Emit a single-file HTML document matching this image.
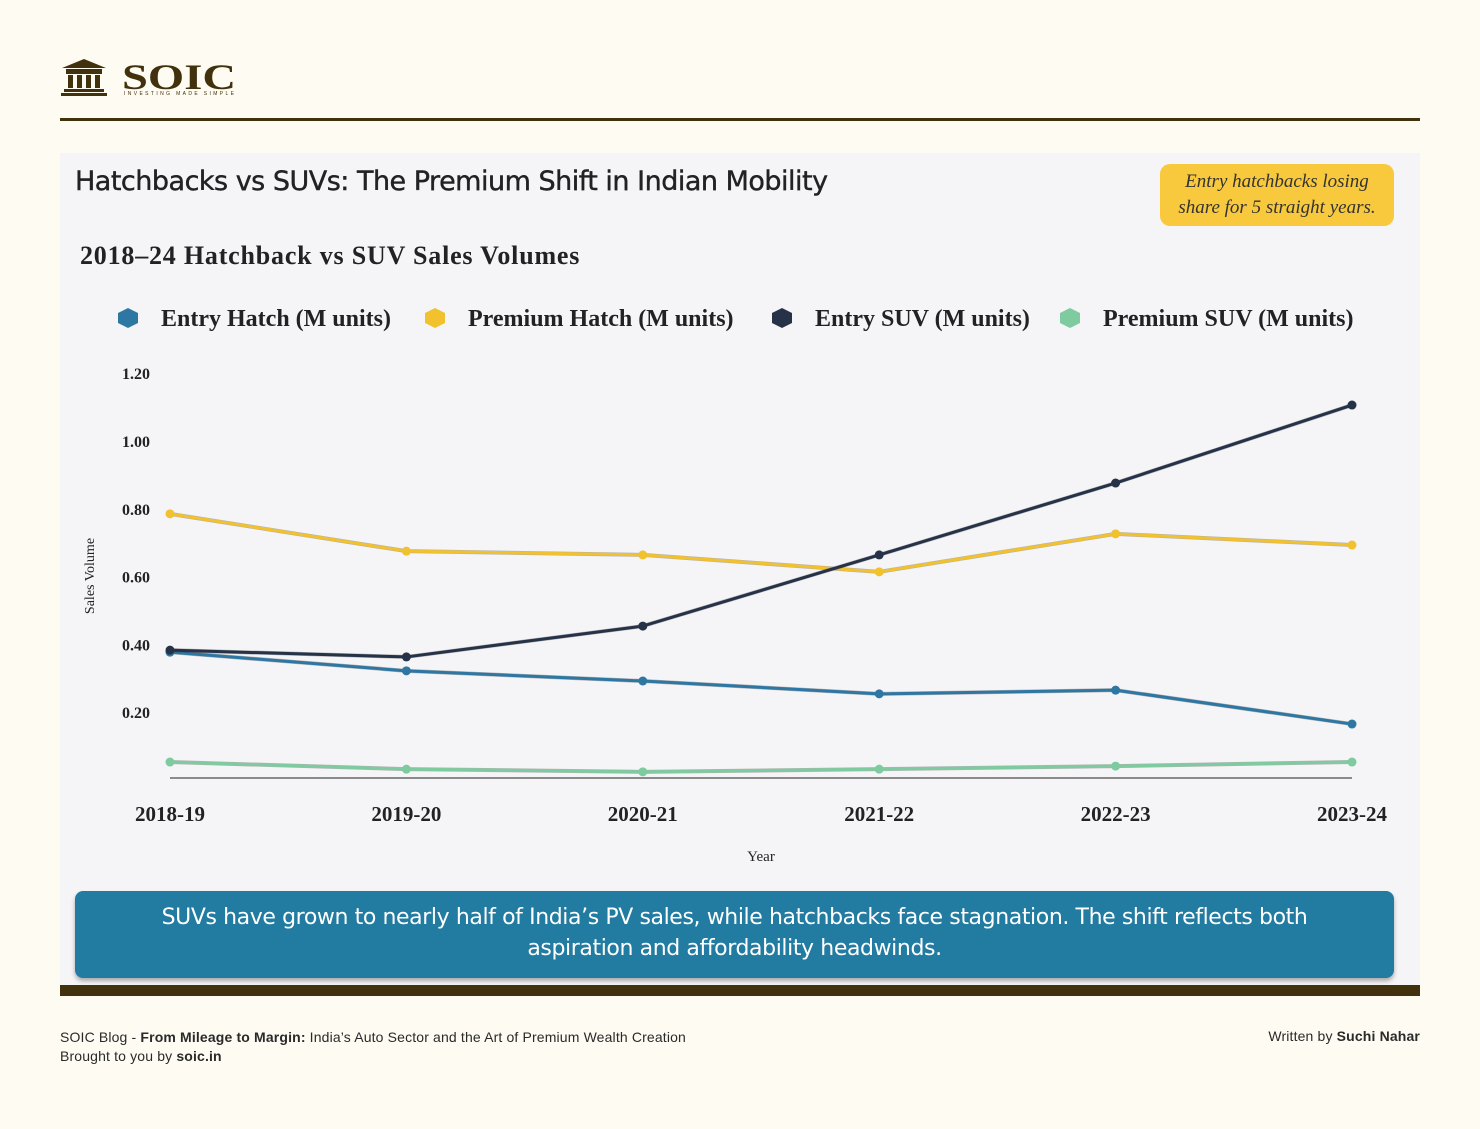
<!DOCTYPE html>
<html><head><meta charset="utf-8"><style>
body{margin:0;width:1480px;height:1129px;background:#fefbf2;position:relative;overflow:hidden;font-family:"Liberation Sans",sans-serif}
.abs{position:absolute}
</style></head><body>
<div class="abs" style="left:60px;top:58px;width:190px;height:42px">
<svg width="190" height="42">
<polygon points="2,10 24,1 46,10" fill="#41310d"/>
<rect x="6" y="11" width="36" height="5" fill="#41310d"/>
<rect x="8" y="17" width="5" height="13" fill="#41310d"/><rect x="17" y="17" width="5" height="13" fill="#41310d"/><rect x="26" y="17" width="5" height="13" fill="#41310d"/><rect x="35" y="17" width="5" height="13" fill="#41310d"/>
<rect x="4" y="31" width="40" height="3" fill="#41310d"/><rect x="1" y="35" width="46" height="3" fill="#41310d"/>
<text x="62" y="31" font-family="Liberation Serif" font-size="36" font-weight="bold" fill="#41310d" textLength="114" lengthAdjust="spacingAndGlyphs">SOIC</text>
<text x="64" y="37" font-family="Liberation Sans" font-size="5" fill="#41310d" textLength="110">INVESTING MADE SIMPLE</text>
</svg></div>
<div class="abs" style="left:60px;top:118px;width:1360px;height:3px;background:#41310d"></div>
<div class="abs" style="left:60px;top:153px;width:1360px;height:833px;background:#f5f5f8"></div>
<div class="abs" style="left:75px;top:166px;font-size:27px;color:#222;font-family:'DejaVu Sans',sans-serif;letter-spacing:-0.5px;-webkit-text-stroke:0.4px #222">Hatchbacks vs SUVs: The Premium Shift in Indian Mobility</div>
<div class="abs" style="left:1160px;top:164px;width:234px;height:62px;background:#f9c93d;border-radius:10px;font-family:'Liberation Serif',serif;font-style:italic;font-size:19px;line-height:26px;text-align:center;color:#333;padding-top:5px;box-sizing:border-box">Entry hatchbacks losing<br>share for 5 straight years.</div>
<div class="abs" style="left:80px;top:241px;font-family:'Liberation Serif',serif;font-weight:bold;font-size:26px;letter-spacing:0.8px;color:#222">2018–24 Hatchback vs SUV Sales Volumes</div>
<svg class="abs" id="chart" style="left:0;top:0" width="1480" height="1129"></svg>
<div class="abs" style="left:75px;top:891px;width:1319px;height:87px;background:#227ba0;border-radius:8px;box-shadow:0 3px 4px #aaa;color:#fff;font-family:'DejaVu Sans',sans-serif;font-size:22px;line-height:31px;text-align:center;padding-top:11px;box-sizing:border-box;letter-spacing:-0.4px">SUVs have grown to nearly half of India’s PV sales, while hatchbacks face stagnation. The shift reflects both<br>aspiration and affordability headwinds.</div>
<div class="abs" style="left:60px;top:985px;width:1360px;height:11px;background:#41310d"></div>
<div class="abs" style="left:60px;top:1028px;font-size:14px;line-height:19px;color:#2a2a2a;letter-spacing:0.15px">SOIC Blog - <b>From Mileage to Margin:</b> India’s Auto Sector and the Art of Premium Wealth Creation<br>Brought to you by <b>soic.in</b></div>
<div class="abs" style="right:60px;top:1028px;font-size:14px;color:#2a2a2a;letter-spacing:0.15px">Written by <b>Suchi Nahar</b></div>
<script>
const categories=["2018-19","2019-20","2020-21","2021-22","2022-23","2023-24"];
const entryHatch=[0.38,0.325,0.295,0.257,0.268,0.168];
const premiumHatch=[0.788,0.678,0.667,0.617,0.729,0.696];
const entrySUV=[0.386,0.366,0.457,0.667,0.879,1.109];
const premiumSUV=[0.056,0.035,0.027,0.035,0.044,0.056];
const yTicks=[0.2,0.4,0.6,0.8,1.0,1.2];
const seriesNames=["Entry Hatch (M units)","Premium Hatch (M units)","Entry SUV (M units)","Premium SUV (M units)"];
const NS="http://www.w3.org/2000/svg";
const svg=document.getElementById('chart');
const x=i=>170+i*236.4;
const y=v=>781-v*339;
function mk(t,a,txt){const e=document.createElementNS(NS,t);for(const k in a)e.setAttribute(k,a[k]);if(txt!=null)e.textContent=txt;svg.appendChild(e);return e;}
const serif="Liberation Serif, serif";
yTicks.forEach(t=>{const e=mk('text',{x:150,y:y(t)+5,'text-anchor':'end','font-family':serif,'font-weight':'bold','font-size':16,fill:'#222'},t.toFixed(2));

});
categories.forEach((c,i)=>{const e=mk('text',{x:x(i),y:821,'text-anchor':'middle','font-family':serif,'font-weight':'bold','font-size':21,fill:'#222'},c);

});
const ax=mk('line',{x1:170,x2:1352,y1:778,y2:778,stroke:'#666','stroke-width':1.5});


const xt=mk('text',{x:761,y:861,'text-anchor':'middle','font-family':serif,'font-size':15,fill:'#222'},'Year');


const yt=mk('text',{x:94,y:576,'text-anchor':'middle','font-family':serif,'font-size':14,fill:'#222',transform:'rotate(-90 94 576)'},'Sales Volume');


const data=[entryHatch,premiumHatch,entrySUV,premiumSUV];
const colors=["#2f77a3","#f2c12e","#263248","#7fcba0"];
const slugs=["entry-hatch","premium-hatch","entry-suv","premium-suv"];
[3,0,1,2].forEach(s=>{
 const pts=data[s].map((v,i)=>x(i)+','+y(v)).join(' ');
 mk('polyline',{points:pts,fill:'none',stroke:'#333','stroke-width':4,opacity:0.35});
 const l=mk('polyline',{points:pts,fill:'none',stroke:colors[s],'stroke-width':3});
 
 
 data[s].forEach((v,i)=>{const c=mk('circle',{cx:x(i),cy:y(v),r:4.5,fill:colors[s]});
 
 });
});
const legX=[128,435,782,1070];
seriesNames.forEach((n,s)=>{
 const d=mk('polygon',{points:`${legX[s]},${308} ${legX[s]+10},${313} ${legX[s]+10},${323} ${legX[s]},${328} ${legX[s]-10},${323} ${legX[s]-10},${313}`,fill:colors[s]});
 
 
 const t=mk('text',{x:legX[s]+33,y:326,'font-family':serif,'font-weight':'bold','font-size':24,fill:'#222'},n);
 
 
});
</script>
</body></html>
